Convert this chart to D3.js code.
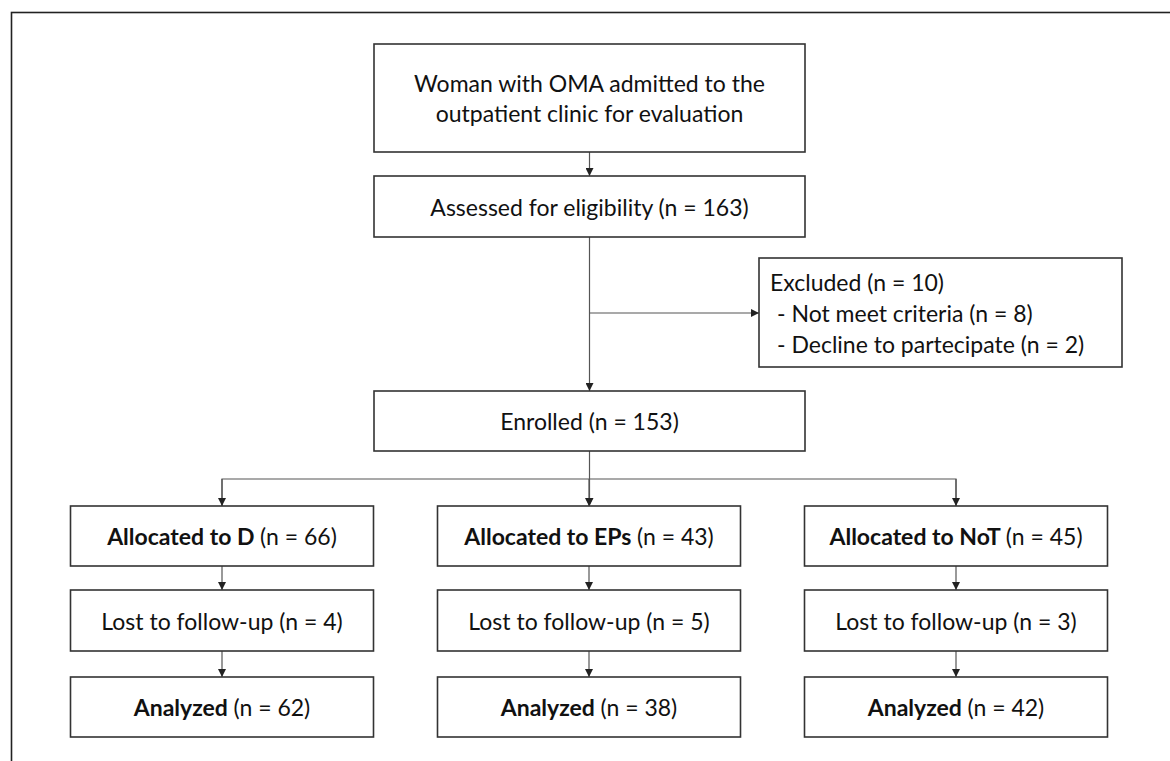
<!DOCTYPE html>
<html>
<head>
<meta charset="utf-8">
<script src="https://cdn.jsdelivr.net/npm/d3@7"></script>
<style>
  html, body { margin: 0; padding: 0; background: #fff; }
  svg { display: block; }
  text { font-family: Lato, "Open Sans", sans-serif; fill: #111; }
</style>
</head>
<body>
<svg id="chart" width="1170" height="761"></svg>
<script>
// ---- data ----
const groups = ["D", "EPs", "NoT"];
const allocated = [66, 43, 45];
const lostFollowUp = [4, 5, 3];
const analyzed = [62, 38, 42];
const topLines = ["Woman with OMA admitted to the", "outpatient clinic for evaluation"];
const assessed = 163;
const enrolled = 153;
const excluded = 10;
const excludedReasons = ["Not meet criteria", "Decline to partecipate"];
const excludedCounts = [8, 2];

// ---- layout ----
const svg = d3.select("#chart");
const W = 1170, H = 761;
const FS = 23;
const stroke = "#333";

// outer frame
svg.append("rect").attr("x", 11.5).attr("y", 12.5).attr("width", W + 20).attr("height", H + 20)
  .attr("fill", "none").attr("stroke", "#222").attr("stroke-width", 1.6);

// arrow marker
svg.append("defs").append("marker")
  .attr("id", "arr").attr("viewBox", "0 0 10 10").attr("refX", 10).attr("refY", 5)
  .attr("markerWidth", 8).attr("markerHeight", 8).attr("markerUnits", "userSpaceOnUse")
  .attr("orient", "auto")
  .append("path").attr("d", "M0,0 L10,5 L0,10 Z").attr("fill", "#222");

const xCol = d3.scalePoint().domain(groups).range([222, 956]);
const colW = 303;
const centerX = 589.5;
const mainW = 431;

// vertical rows [top, bottom]
const rows = {
  top: [44, 152],
  assessed: [176, 237],
  enrolled: [391, 451],
  alloc: [506, 566],
  lost: [590, 651],
  anal: [677, 737]
};

function box(cx, r, w) {
  svg.append("rect").attr("x", cx - w / 2).attr("y", r[0]).attr("width", w).attr("height", r[1] - r[0])
    .attr("fill", "#fff").attr("stroke", stroke).attr("stroke-width", 1.6);
}
function line(pts, arrow) {
  svg.append("path").attr("d", d3.line()(pts)).attr("fill", "none")
    .attr("stroke", "#555").attr("stroke-width", 1.2)
    .attr("marker-end", arrow ? "url(#arr)" : null);
}
function label(cx, cy, bold, normal) {
  const t = svg.append("text").attr("x", cx).attr("y", cy).attr("text-anchor", "middle")
    .attr("dominant-baseline", "central").attr("font-size", FS);
  if (bold) t.append("tspan").attr("font-weight", "bold").text(bold + " ");
  t.append("tspan").text(normal);
}

// connectors
line([[centerX, rows.top[1]], [centerX, rows.assessed[0]]], true);
line([[centerX, rows.assessed[1]], [centerX, rows.enrolled[0]]], true);
const exBox = { x0: 759, x1: 1122, y0: 258, y1: 367 };
const exY = 313;
line([[centerX, exY], [exBox.x0, exY]], true);
const branchY = 479;
line([[centerX, rows.enrolled[1]], [centerX, rows.alloc[0]]], true);
line([[xCol(groups[0]), rows.alloc[0]], [xCol(groups[0]), branchY], [xCol(groups[2]), branchY], [xCol(groups[2]), rows.alloc[0]]], false);
groups.forEach(g => {
  const x = xCol(g);
  line([[x, branchY], [x, rows.alloc[0]]], true);
  line([[x, rows.alloc[1]], [x, rows.lost[0]]], true);
  line([[x, rows.lost[1]], [x, rows.anal[0]]], true);
});

// top boxes
box(centerX, rows.top, mainW);
topLines.forEach((s, i) => {
  svg.append("text").attr("x", centerX).attr("y", 83 + i * 30).attr("text-anchor", "middle")
    .attr("dominant-baseline", "central").attr("font-size", FS).text(s);
});
box(centerX, rows.assessed, mainW);
label(centerX, (rows.assessed[0] + rows.assessed[1]) / 2, null, `Assessed for eligibility (n = ${assessed})`);
box(centerX, rows.enrolled, mainW);
label(centerX, (rows.enrolled[0] + rows.enrolled[1]) / 2, null, `Enrolled (n = ${enrolled})`);

// excluded box
svg.append("rect").attr("x", exBox.x0).attr("y", exBox.y0).attr("width", exBox.x1 - exBox.x0)
  .attr("height", exBox.y1 - exBox.y0).attr("fill", "#fff").attr("stroke", stroke).attr("stroke-width", 1.6);
svg.append("text").attr("x", 770).attr("y", 282).attr("dominant-baseline", "central")
  .attr("font-size", FS).text(`Excluded (n = ${excluded})`);
excludedReasons.forEach((r, i) => {
  svg.append("text").attr("x", 777).attr("y", 313 + i * 31).attr("dominant-baseline", "central")
    .attr("font-size", FS).text(`- ${r} (n = ${excludedCounts[i]})`);
});

// group columns
groups.forEach((g, i) => {
  const x = xCol(g);
  box(x, rows.alloc, colW);
  label(x, (rows.alloc[0] + rows.alloc[1]) / 2, `Allocated to ${g}`, `(n = ${allocated[i]})`);
  box(x, rows.lost, colW);
  label(x, (rows.lost[0] + rows.lost[1]) / 2, null, `Lost to follow-up (n = ${lostFollowUp[i]})`);
  box(x, rows.anal, colW);
  label(x, (rows.anal[0] + rows.anal[1]) / 2, "Analyzed", `(n = ${analyzed[i]})`);
});
</script>
</body>
</html>
